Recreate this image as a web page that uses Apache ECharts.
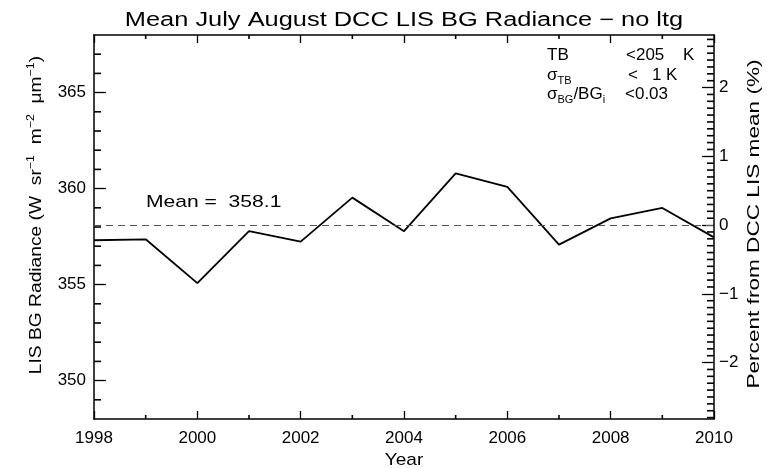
<!DOCTYPE html>
<html>
<head>
<meta charset="utf-8">
<title>Mean July August DCC LIS BG Radiance</title>
<script src="https://cdn.jsdelivr.net/npm/echarts@6/dist/echarts.min.js"></script>
<style>
  html, body { margin: 0; padding: 0; background: #fff; }
  #chart { width: 767px; height: 468px; }
</style>
</head>
<body>
<div id="chart"></div>
<script>
// Yearly mean July/August background radiance of deep convective clouds (no lightning)
const years = [1998, 1999, 2000, 2001, 2002, 2003, 2004, 2005, 2006, 2007, 2008, 2009, 2010];
const radiance = [357.31, 357.36, 355.08, 357.78, 357.24, 359.53, 357.78, 360.79, 360.09, 357.08, 358.45, 358.99, 357.46];
const meanValue = 358.1;

// Axis ranges and ticks
const yearMin = 1998, yearMax = 2010;
const yearTicks = [1998, 2000, 2002, 2004, 2006, 2008, 2010];
const yearMinorTicks = [1999, 2001, 2003, 2005, 2007, 2009];
const radMin = 348, radMax = 368;
const radTicks = [350, 355, 360, 365];
const radMinorTicks = [349, 351, 352, 353, 354, 356, 357, 358, 359, 361, 362, 363, 364, 366, 367];
const pctTicks = [-2, -1, 0, 1, 2];
const pctMinorTicks = [
  -2.8, -2.7, -2.6, -2.5, -2.4, -2.3, -2.2, -2.1,
  -1.9, -1.8, -1.7, -1.6, -1.5, -1.4, -1.3, -1.2, -1.1,
  -0.9, -0.8, -0.7, -0.6, -0.5, -0.4, -0.3, -0.2, -0.1,
  0.1, 0.2, 0.3, 0.4, 0.5, 0.6, 0.7, 0.8, 0.9,
  1.1, 1.2, 1.3, 1.4, 1.5, 1.6, 1.7, 1.8, 1.9,
  2.1, 2.2, 2.3, 2.4, 2.5, 2.6, 2.7
];

// Right axis: percent departure from the mean on the same vertical scale
const pctMin = (radMin - meanValue) / meanValue * 100;
const pctMax = (radMax - meanValue) / meanValue * 100;

const FONT = 'Liberation Sans';
const INK = '#000';
const labelStyle = { color: INK, fontFamily: FONT, fontSize: 17 };
const MAJOR_X = 8, MINOR_X = 4, MAJOR_Y = 12, MINOR_Y = 7;

// One side of the frame: axis line plus inward major ticks
function frameAxis(position, min, max, tickValues, tickLen, labels) {
  return {
    type: 'value',
    position: position,
    min: min,
    max: max,
    splitLine: { show: false },
    axisLine: { show: true, onZero: false, lineStyle: { color: INK, width: 1.5 } },
    axisTick: { show: true, inside: true, length: tickLen, customValues: tickValues, lineStyle: { color: INK, width: 1.3 } },
    axisLabel: labels ? Object.assign({ show: true }, labelStyle, labels) : { show: false }
  };
}

const xAxes = [
  frameAxis('bottom', yearMin, yearMax, yearTicks, MAJOR_X, { customValues: yearTicks, margin: 11, formatter: v => String(v) }),
  frameAxis('top', yearMin, yearMax, yearTicks, MAJOR_X)
];

const yAxes = [
  frameAxis('left', radMin, radMax, radTicks, MAJOR_Y, { customValues: radTicks, margin: 8, formatter: v => String(v) }),
  frameAxis('right', pctMin, pctMax, pctTicks, MAJOR_Y, {
    customValues: pctTicks, margin: 5,
    formatter: v => (v < 0 ? '\u2212' + Math.abs(v) : String(v))
  })
];

// Minor ticks, placed through the axis scales; dx/dy give the inward direction
function minorTicks(name, points, yAxisIndex, dx, dy) {
  return {
    type: 'custom',
    name: name,
    xAxisIndex: 0,
    yAxisIndex: yAxisIndex,
    clip: false,
    z: 5,
    data: points,
    renderItem: function (params, api) {
      const p = api.coord([api.value(0), api.value(1)]);
      return {
        type: 'line',
        shape: { x1: p[0], y1: p[1], x2: p[0] + dx, y2: p[1] + dy },
        style: { stroke: INK, lineWidth: 1.6 }
      };
    }
  };
}

const rich = {
  t: { fontFamily: FONT, fontSize: 17, lineHeight: 22, color: INK },
  s: { fontFamily: FONT, fontSize: 17, lineHeight: 22, color: INK },
  sub: { fontFamily: FONT, fontSize: 11, lineHeight: 10, verticalAlign: 'bottom', color: INK },
  sup: { fontFamily: FONT, fontSize: 11, lineHeight: 10, verticalAlign: 'top', color: INK }
};

function label(x, y, text, opts) {
  opts = opts || {};
  return {
    type: 'text', x: x, y: y, silent: true,
    rotation: opts.rotation || 0,
    scaleX: opts.scaleX || 1,
    style: {
      text: text,
      align: opts.align || 'left',
      verticalAlign: 'middle',
      fill: INK,
      fontFamily: FONT,
      fontSize: opts.fontSize || 17,
      rich: opts.rich
    }
  };
}

const chart = echarts.init(document.getElementById('chart'), null, { renderer: 'canvas' });

chart.setOption({
  animation: false,
  backgroundColor: '#fff',
  grid: { left: 94, right: 53, top: 35, bottom: 49 },
  xAxis: xAxes,
  yAxis: yAxes,
  series: [
    {
      type: 'line',
      name: 'LIS BG radiance',
      xAxisIndex: 0,
      yAxisIndex: 0,
      data: years.map((yr, i) => [yr, radiance[i]]),
      symbol: 'none',
      lineStyle: { color: INK, width: 1.8 },
      markLine: {
        silent: true,
        symbol: ['none', 'none'],
        label: { show: false },
        lineStyle: { color: '#555', width: 1.2, type: [7, 5] },
        data: [{ yAxis: meanValue }]
      }
    },
    minorTicks('bottom minor', yearMinorTicks.map(v => [v, radMin]), 0, 0, -MINOR_X),
    minorTicks('top minor', yearMinorTicks.map(v => [v, radMax]), 0, 0, MINOR_X),
    minorTicks('left minor', radMinorTicks.map(v => [yearMin, v]), 0, MINOR_Y, 0),
    minorTicks('right minor', pctMinorTicks.map(v => [yearMax, v]), 1, -MINOR_Y, 0)
  ],
  graphic: [
    label(404, 20, 'Mean July August DCC LIS BG Radiance \u2212 no ltg', { align: 'center', fontSize: 20, scaleX: 1.27 }),
    label(404, 460, 'Year', { align: 'center', scaleX: 1.12 }),
    label(146, 202, 'Mean =  ' + meanValue.toFixed(1), { scaleX: 1.24 }),
    label(36, 215,
      '{t|LIS BG Radiance (W  sr}{sup|\u22121}{t|  m}{sup|\u22122}{t|  \u03bcm}{sup|\u22121}{t|)}',
      { align: 'center', rotation: Math.PI / 2, scaleX: 1.13, rich: rich }),
    label(754, 224, 'Percent from DCC LIS mean (%)', { align: 'center', rotation: Math.PI / 2, scaleX: 1.33 }),
    // selection criteria
    label(547, 55, 'TB'),
    label(626, 55, '<205'),
    label(683, 55, 'K'),
    label(547, 75, '{s|\u03c3}{sub|TB}', { rich: rich }),
    label(628, 75, '<'),
    label(652, 75, '1'),
    label(666, 75, 'K'),
    label(547, 94, '{s|\u03c3}{sub|BG}{s|/BG}{sub|i}', { rich: rich }),
    label(625, 94, '<0.03')
  ]
});
</script>
</body>
</html>
